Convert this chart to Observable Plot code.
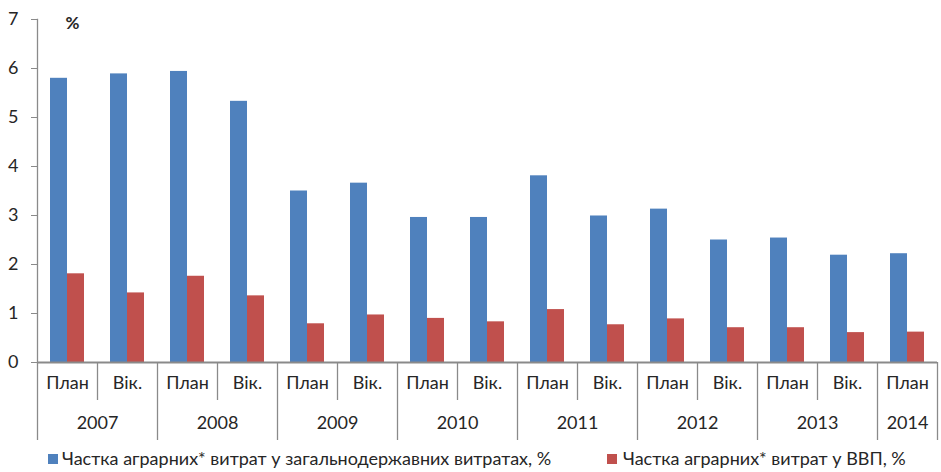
<!DOCTYPE html>
<html>
<head>
<meta charset="utf-8">
<script src="https://cdn.jsdelivr.net/npm/d3@7"></script>
<script src="https://cdn.jsdelivr.net/npm/@observablehq/plot@0.6"></script>
<style>
  body { margin: 0; background: #fff; font-family: Lato, "Noto Sans", sans-serif; }
  #legend { position: relative; width: 941px; height: 27px; font-size: 18px; color: #262626; }
  #legend .sw { position: absolute; top: 9px; width: 10px; height: 10px; }
  #legend .tx { position: absolute; top: 2px; white-space: nowrap; line-height: normal; }
</style>
</head>
<body>
<div id="chart"></div>
<div id="legend"></div>
<script>
// ---- data ----
const years = ["2007","2007","2008","2008","2009","2009","2010","2010","2011","2011","2012","2012","2013","2013","2014"];
const periods = ["План","Вік.","План","Вік.","План","Вік.","План","Вік.","План","Вік.","План","Вік.","План","Вік.","План"];
const shareOfBudget = [5.80, 5.89, 5.94, 5.33, 3.50, 3.66, 2.96, 2.96, 3.81, 2.99, 3.13, 2.50, 2.54, 2.19, 2.22];
const shareOfGDP    = [1.81, 1.42, 1.76, 1.36, 0.79, 0.97, 0.90, 0.83, 1.08, 0.77, 0.89, 0.71, 0.71, 0.61, 0.62];
const seriesNames = ["Частка аграрних* витрат у загальнодержавних витратах, %", "Частка аграрних* витрат у ВВП, %"];
const seriesColors = ["#4F81BD", "#C0504D"];
const yTicks = [0, 1, 2, 3, 4, 5, 6, 7];
const unitLabel = "%";

// ---- derived tables ----
const rows = years.map((y, i) => ({
  key: y + " " + periods[i],
  year: y,
  period: periods[i],
  a: shareOfBudget[i],
  b: shareOfGDP[i],
  first: i === 0 || years[i - 1] !== y
}));
const keys = rows.map(d => d.key);
const yearRows = [];
rows.forEach(d => {
  const last = yearRows[yearRows.length - 1];
  if (last && last.year === d.year) last.count++;
  else yearRows.push({year: d.year, firstKey: d.key, count: 1});
});
const lastRow = [rows[rows.length - 1]];

const gray = "#8a8a8a";
const ink = "#262626";
const fs = 18;

const chart = Plot.plot({
  width: 941,
  height: 445,
  marginLeft: 37,
  marginRight: 4,
  marginTop: 19,
  marginBottom: 83,
  style: {fontFamily: "Lato, 'Noto Sans', sans-serif", background: "#fff"},
  x: {type: "band", domain: keys, padding: 0, axis: null},
  y: {domain: [0, 7], axis: null},
  marks: [
    Plot.barY(rows, {x: "key", y: "a", fill: seriesColors[0], insetLeft: 13, insetRight: 30}),
    Plot.barY(rows, {x: "key", y: "b", fill: seriesColors[1], insetLeft: 30, insetRight: 13}),
    Plot.frame({anchor: "left", stroke: gray, strokeWidth: 1.3}),
    Plot.axisY({ticks: yTicks, tickSize: 6, tickPadding: 13, tickFormat: d => String(d),
      fontSize: fs, stroke: gray, fill: ink, label: null}),
    // separators between periods (short) and years (long)
    Plot.ruleX(rows.filter(d => !d.first), {x: "key", dx: -30, y1: d => 0, y2: d => 0, insetBottom: -38, stroke: gray, strokeWidth: 1.3}),
    Plot.ruleX(rows.filter(d => d.first), {x: "key", dx: -30, y1: d => 0, y2: d => 0, insetBottom: -78, stroke: gray, strokeWidth: 1.3}),
    Plot.ruleX(lastRow, {x: "key", dx: 30, y1: d => 0, y2: d => 0, insetBottom: -78, stroke: gray, strokeWidth: 1.3}),
    Plot.ruleY([0], {stroke: gray, strokeWidth: 2}),
    // category labels
    Plot.text(rows, {x: "key", text: "period", frameAnchor: "bottom", dy: 26, fontSize: fs, fill: ink}),
    Plot.text(yearRows.filter(d => d.count === 2), {x: "firstKey", text: "year", frameAnchor: "bottom", dx: 30, dy: 66, fontSize: fs, fill: ink}),
    Plot.text(yearRows.filter(d => d.count === 1), {x: "firstKey", text: "year", frameAnchor: "bottom", dy: 66, fontSize: fs, fill: ink}),
    // unit label
    Plot.text([unitLabel], {frameAnchor: "top-left", dx: 28, dy: -3, fontSize: 17, fontWeight: "bold", fill: ink})
  ]
});
document.getElementById("chart").appendChild(chart);

// ---- legend ----
const legend = document.getElementById("legend");
const swLeft = [48, 607], txLeft = [62, 623];
seriesNames.forEach((name, i) => {
  const sw = document.createElement("div");
  sw.className = "sw";
  sw.style.left = swLeft[i] + "px";
  sw.style.background = seriesColors[i];
  const tx = document.createElement("div");
  tx.className = "tx";
  tx.style.left = txLeft[i] + "px";
  tx.textContent = name;
  legend.appendChild(sw);
  legend.appendChild(tx);
});
</script>
</body>
</html>
